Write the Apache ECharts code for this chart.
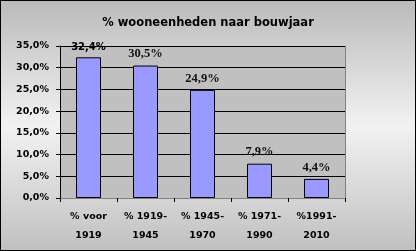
<!DOCTYPE html>
<html><head><meta charset="utf-8">
<style>html,body{margin:0;padding:0;}#c{width:416px;height:251px;}</style>
<script src="https://cdn.jsdelivr.net/npm/echarts@6/dist/echarts.min.js"></script>
</head><body><div id="c"></div>
<script>
var titleText = '% wooneenheden naar bouwjaar';
var categories = ['% voor\n1919', '% 1919-\n1945', '% 1945-\n1970', '% 1971-\n1990', '%1991-\n2010'];
var values = [32.4, 30.5, 24.9, 7.9, 4.4];
var yMin = 0, yMax = 35, yStep = 5;

function pct(v) { return v.toFixed(1).replace('.', ',') + '%'; }

var chart = echarts.init(document.getElementById('c'), null, {renderer: 'canvas'});
var data = values.map(function (v, i) {
  var lbl = i === 0
    ? {fontFamily: 'DejaVu Sans', fontWeight: 'bold', fontSize: 10, color: '#000'}
    : {fontFamily: 'Liberation Serif', fontWeight: 'bold', fontSize: 12.5, color: '#111'};
  return {value: v, label: lbl};
});
chart.setOption({
  animation: false,
  backgroundColor: {
    type: 'linear', x: 0, y: 0, x2: 0, y2: 1,
    colorStops: [
      {offset: 0, color: '#bababa'},
      {offset: 0.5, color: '#f2f2f2'},
      {offset: 1, color: '#c0c0c0'}
    ]
  },
  title: {
    text: titleText, left: 'center', top: 12,
    textStyle: {fontFamily: 'DejaVu Sans', fontWeight: 'bold', fontSize: 11.5, color: '#000'}
  },
  grid: {left: 60, right: 71, top: 46, bottom: 53},
  xAxis: [{
    type: 'category', data: categories,
    axisLine: {show: true, lineStyle: {color: '#000', width: 1}},
    axisTick: {show: true, length: 4, lineStyle: {color: '#000'}},
    axisLabel: {margin: 9, lineHeight: 19, fontFamily: 'DejaVu Sans', fontWeight: 'bold', fontSize: 9.5, color: '#000', interval: 0}
  }, {
    type: 'category', data: categories, position: 'top',
    axisLine: {show: true, lineStyle: {color: '#808080', width: 1}},
    axisTick: {show: false}, axisLabel: {show: false}, splitLine: {show: false}
  }],
  yAxis: [{
    type: 'value', min: yMin, max: yMax, interval: yStep,
    axisLine: {show: true, lineStyle: {color: '#000', width: 1}},
    axisTick: {show: true, length: 4, lineStyle: {color: '#000'}},
    axisLabel: {margin: 11, fontFamily: 'DejaVu Sans', fontWeight: 'bold', fontSize: 9.5, color: '#000', formatter: pct},
    splitLine: {show: true, lineStyle: {color: '#000', width: 1}},
    splitArea: {show: true, areaStyle: {color: ['#c0c0c0', '#c0c0c0']}}
  }, {
    type: 'value', min: yMin, max: yMax, interval: yStep, position: 'right',
    axisLine: {show: true, lineStyle: {color: '#808080', width: 1}},
    axisTick: {show: false}, axisLabel: {show: false}, splitLine: {show: false}
  }],
  series: [{
    type: 'bar', data: data, barWidth: 25,
    itemStyle: {color: '#9999ff', borderColor: '#000', borderWidth: 1},
    label: {show: true, position: 'top', distance: 5, formatter: function (p) { return pct(p.value); }}
  }],
  graphic: [{
    type: 'rect', shape: {x: 0, y: 0, width: 416, height: 251}, silent: true, z: 100,
    style: {fill: 'none', stroke: '#000', lineWidth: 2}
  }]
});
</script></body></html>
